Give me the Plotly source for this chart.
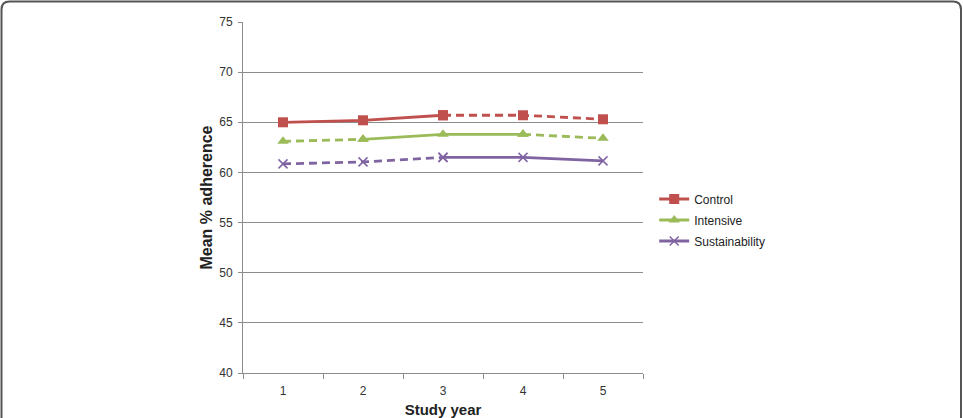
import plotly.graph_objects as go

years = [1, 2, 3, 4, 5]
control = [65.0, 65.2, 65.7, 65.7, 65.3]
intensive = [63.1, 63.3, 63.8, 63.8, 63.4]
sustainability = [60.85, 61.05, 61.5, 61.5, 61.15]

W, H = 963, 418
L, R, T, B = 243, 320, 22, 45
pw, ph = W - L - R, H - T - B

FONT = "Liberation Sans, Arial, sans-serif"
DASH = "8px,5px"

series = [
    # name, values, color, marker symbol, segments (start,end,dashed)
    ("Control", control, "#C0504D", "square", [(0, 2, False), (2, 4, True)]),
    ("Intensive", intensive, "#9BBB59", "triangle-up", [(1, 3, False), (0, 1, True), (3, 4, True)]),
    ("Sustainability", sustainability, "#8064A2", "x-thin", [(2, 4, False), (0, 2, True)]),
]

fig = go.Figure()
for name, vals, color, sym, segs in series:
    for i, (a, b, dashed) in enumerate(segs):
        marker = dict(symbol=sym, size=10 if sym != "x-thin" else 9, color=color,
                      line=dict(color=color, width=1.5 if sym == "x-thin" else 0))
        fig.add_trace(go.Scatter(
            x=years[a:b + 1], y=vals[a:b + 1], mode="lines+markers",
            name=name, legendgroup=name, showlegend=(i == 0),
            line=dict(color=color, width=2.8, dash=DASH if dashed else "solid"),
            marker=marker, hoverinfo="skip"))

def px2x(px):
    return (px - L) / pw

def py2y(py):
    return (H - B - py) / ph

x0, x1, yt, yb, r = 1.5, 961.0, 1.5, 430, 8
path = (f"M {px2x(x0)},{py2y(yb)} L {px2x(x0)},{py2y(yt + r)} "
        f"Q {px2x(x0)},{py2y(yt)} {px2x(x0 + r)},{py2y(yt)} "
        f"L {px2x(x1 - r)},{py2y(yt)} Q {px2x(x1)},{py2y(yt)} {px2x(x1)},{py2y(yt + r)} "
        f"L {px2x(x1)},{py2y(yb)}")

fig.update_layout(
    width=W, height=H,
    margin=dict(l=L, r=R, t=T, b=B, autoexpand=False),
    paper_bgcolor="white", plot_bgcolor="white",
    font=dict(family=FONT, size=12, color="#333333"),
    shapes=[dict(type="path", path=path, xref="paper", yref="paper",
                 line=dict(color="#555555", width=2), layer="above")],
    legend=dict(x=1.028, y=0.537, xanchor="left", yanchor="top",
                font=dict(size=12, color="#222222"), bgcolor="rgba(0,0,0,0)",
                itemwidth=30, tracegroupgap=2),
    xaxis=dict(range=[0.5, 5.5], tickvals=years, ticktext=[str(y) for y in years],
               ticks="", showgrid=False, zeroline=False, automargin=False,
               showline=True, linecolor="#8c8c8c", linewidth=1,
               ticklabelstandoff=7,
               minor=dict(ticks="outside", tick0=0.5, dtick=1, ticklen=5,
                          tickcolor="#8c8c8c", showgrid=False),
               title=dict(text="<b>Study year</b>", font=dict(size=15, color="#222222"),
                          standoff=10)),
    yaxis=dict(range=[40, 75], dtick=5, tick0=40, ticks="outside", ticklen=4,
               tickcolor="#8c8c8c", showgrid=True, gridcolor="#8c8c8c", gridwidth=1,
               zeroline=False, showline=True, linecolor="#8c8c8c", linewidth=1,
               ticklabelstandoff=3, automargin=False,
               title=dict(text="<b>Mean % adherence</b>", font=dict(size=16, color="#222222"),
                          standoff=2)),
)

fig.write_html("out.html")
